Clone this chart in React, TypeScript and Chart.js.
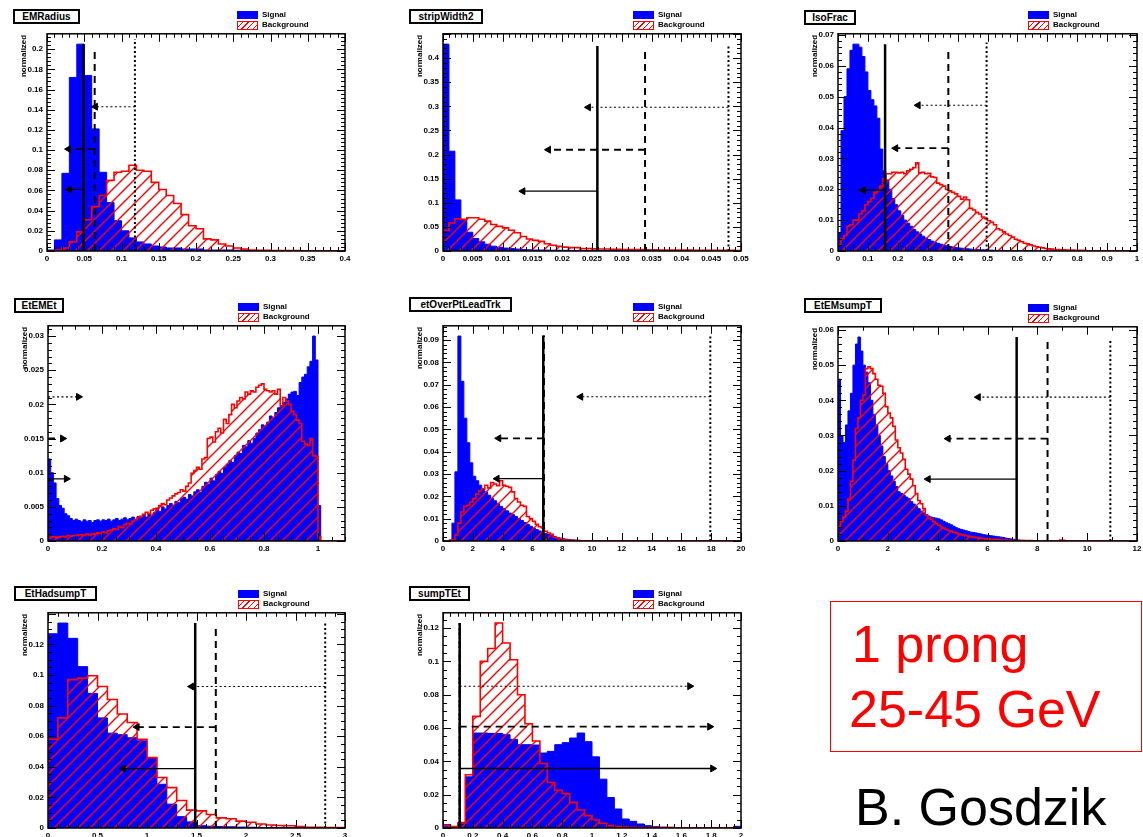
import { useEffect, useRef } from "react";
import { Chart, registerables } from "chart.js";

Chart.register(...registerables);

// [cut value, top of the cut line, arrow height, arrow end]
type Cut = [number, number, number, number];

// ---------- EMRadius (40 bins, 0 - 0.4) ----------
const emRadiusSignal = [
  0.001, 0.011, 0.077, 0.172, 0.205, 0.174, 0.121, 0.078, 0.048, 0.030,
  0.020, 0.013, 0.009, 0.007, 0.005, 0.004, 0.003, 0.003, 0.002, 0.002,
  0.002, 0.001, 0.001, 0.001, 0.001, 0.0008, 0.0006, 0.0005, 0.0004, 0.0003,
  0.0002, 0.0002, 0.0001, 0.0001, 0, 0, 0, 0, 0, 0,
];
const emRadiusBackground = [
  0, 0.001, 0.003, 0.009, 0.019, 0.031, 0.044, 0.055, 0.070, 0.078,
  0.079, 0.085, 0.080, 0.079, 0.068, 0.061, 0.055, 0.047, 0.036, 0.025,
  0.022, 0.012, 0.011, 0.007, 0.005, 0.003, 0.002, 0.001, 0.0008, 0.0006,
  0.0005, 0.0005, 0.0004, 0.0004, 0.0003, 0.0003, 0.0002, 0.0002, 0.0001, 0.0001,
];
const emRadiusXTicks = ["0", "0.05", "0.1", "0.15", "0.2", "0.25", "0.3", "0.35", "0.4"];
const emRadiusYTicks = ["0", "0.02", "0.04", "0.06", "0.08", "0.1", "0.12", "0.14", "0.16", "0.18", "0.2"];
const emRadiusCuts: Cut[] = [
  [0.049, 0.205, 0.061, 0.03],
  [0.064, 0.2, 0.101, 0.029],
  [0.118, 0.21, 0.143, 0.065],
];

// ---------- stripWidth2 (50 bins, 0 - 0.05) ----------
const stripWidthSignal = [
  0.429, 0.207, 0.106, 0.064, 0.039, 0.026, 0.019, 0.014, 0.010, 0.008,
  0.006, 0.005, 0.004, 0.003, 0.0025, 0.002, 0.002, 0.0018, 0.0016, 0.0015,
  0.0014, 0.0013, 0.0012, 0.0011, 0.001, 0.001, 0.0009, 0.0008, 0.0007, 0.0006,
  0.0005, 0.0005, 0.0004, 0.0004, 0.0003, 0.0003, 0.0003, 0.0002, 0.0002, 0.0002,
  0.0002, 0.0001, 0.0001, 0.0001, 0.0001, 0.0001, 0.0001, 0.0001, 0.0001, 0.0001,
];
const stripWidthBackground = [
  0.043, 0.058, 0.067, 0.066, 0.069, 0.069, 0.066, 0.062, 0.055, 0.051,
  0.048, 0.043, 0.038, 0.030, 0.025, 0.022, 0.020, 0.015, 0.012, 0.0097,
  0.008, 0.007, 0.007, 0.005, 0.005, 0.0045, 0.004, 0.004, 0.0035, 0.0035,
  0.003, 0.003, 0.003, 0.0028, 0.0025, 0.0025, 0.002, 0.002, 0.002, 0.002,
  0.0018, 0.0018, 0.0015, 0.0015, 0.0015, 0.0015, 0.0012, 0.0012, 0.0012, 0.001,
];
const stripWidthXTicks = ["0", "0.005", "0.01", "0.015", "0.02", "0.025", "0.03", "0.035", "0.04", "0.045", "0.05"];
const stripWidthYTicks = ["0", "0.05", "0.1", "0.15", "0.2", "0.25", "0.3", "0.35", "0.4"];
const stripWidthCuts: Cut[] = [
  [0.0259, 0.425, 0.124, 0.0134],
  [0.0339, 0.42, 0.21, 0.0177],
  [0.0479, 0.425, 0.298, 0.0244],
];

// ---------- IsoFrac (100 bins, 0 - 1) ----------
const isoFracSignal = [
  0.006, 0.039, 0.050, 0.059, 0.065, 0.067, 0.067, 0.066, 0.063, 0.058,
  0.052, 0.049, 0.047, 0.043, 0.033, 0.026, 0.023, 0.020, 0.017, 0.015,
  0.013, 0.0115, 0.010, 0.009, 0.008, 0.007, 0.0062, 0.0055, 0.0048, 0.0042,
  0.0037, 0.0032, 0.0028, 0.0025, 0.0022, 0.0019, 0.0017, 0.0015, 0.0013, 0.0011,
  0.0010, 0.0009, 0.0008, 0.0007, 0.0006, 0.0005, 0.0005, 0.0004, 0.0004, 0.0003,
  0.0003, 0.0003, 0.0002, 0.0002, 0.0002, 0.0002, 0.0001, 0.0001, 0.0001, 0.0001,
  0.0001, 0.0001, 0.0001, 0.0001, 0.0001, 0, 0, 0, 0, 0,
  0, 0, 0, 0, 0, 0, 0, 0, 0, 0,
  0, 0, 0, 0, 0, 0, 0, 0, 0, 0,
  0, 0, 0, 0, 0, 0, 0, 0, 0, 0,
];
const isoFracBackground = [
  0.002, 0.004, 0.005, 0.008, 0.0085, 0.010, 0.010, 0.012, 0.013, 0.015,
  0.016, 0.017, 0.019, 0.0195, 0.021, 0.0235, 0.025, 0.025, 0.0255, 0.0255,
  0.0253, 0.0255, 0.025, 0.026, 0.0265, 0.027, 0.0286, 0.0253, 0.0255, 0.025,
  0.0252, 0.024, 0.0238, 0.022, 0.0215, 0.021, 0.0199, 0.0195, 0.019, 0.0185,
  0.0177, 0.0168, 0.0175, 0.0166, 0.0138, 0.0133, 0.0125, 0.012, 0.011, 0.0105,
  0.0098, 0.0093, 0.0085, 0.0072, 0.0068, 0.0062, 0.0055, 0.005, 0.0045, 0.0038,
  0.0035, 0.003, 0.0025, 0.0023, 0.002, 0.0016, 0.0014, 0.0012, 0.001, 0.0008,
  0.0007, 0.0006, 0.0005, 0.0005, 0.0004, 0.0004, 0.0003, 0.0003, 0.0003, 0.0002,
  0.0002, 0.0002, 0.0002, 0.0001, 0.0001, 0.0001, 0.0001, 0.0001, 0.0001, 0.0001,
  0.0001, 0.0001, 0.0001, 0.0001, 0.0001, 0.0001, 0.0001, 0.0001, 0.0001, 0.0001,
];
const isoFracXTicks = ["0", "0.1", "0.2", "0.3", "0.4", "0.5", "0.6", "0.7", "0.8", "0.9", "1"];
const isoFracYTicks = ["0", "0.01", "0.02", "0.03", "0.04", "0.05", "0.06", "0.07"];
const isoFracCuts: Cut[] = [
  [0.1575, 0.067, 0.0197, 0.084],
  [0.369, 0.066, 0.0333, 0.193],
  [0.497, 0.0675, 0.0472, 0.268],
];

// ---------- EtEMEt (110 bins, 0 - 1.1) ----------
const etEmEtSignal = [
  0.0120, 0.0100, 0.0085, 0.0062, 0.0052, 0.0048, 0.0040, 0.0037, 0.0033, 0.0030,
  0.0032, 0.0030, 0.0028, 0.0031, 0.0029, 0.0030, 0.0027, 0.0030, 0.0031, 0.0029,
  0.0031, 0.0030, 0.0032, 0.0029, 0.0031, 0.0033, 0.0030, 0.0032, 0.0034, 0.0031,
  0.0033, 0.0035, 0.0032, 0.0036, 0.0034, 0.0038, 0.0035, 0.0040, 0.0037, 0.0042,
  0.0048, 0.0043, 0.0050, 0.0047, 0.0052, 0.0055, 0.0052, 0.0058, 0.0056, 0.0062,
  0.0064, 0.0061, 0.0068, 0.0066, 0.0072, 0.0075, 0.0071, 0.0080, 0.0086, 0.0083,
  0.0092, 0.0088, 0.0097, 0.0102, 0.0099, 0.0108, 0.0112, 0.0118, 0.0115, 0.0125,
  0.0130, 0.0128, 0.0140, 0.0138, 0.0147, 0.0143, 0.0150, 0.0158, 0.0163, 0.0170,
  0.0168, 0.0174, 0.0183, 0.0180, 0.0188, 0.0195, 0.0197, 0.0203, 0.0208, 0.0215,
  0.0218, 0.0219, 0.0213, 0.0232, 0.0240, 0.0244, 0.0255, 0.0263, 0.0300, 0.0265,
  0.0052, 0, 0, 0, 0, 0, 0, 0, 0, 0,
];
const etEmEtBackground = [
  0.0004, 0.0006, 0.0006, 0.0005, 0.0006, 0.0007, 0.0006, 0.0008, 0.0007, 0.0008,
  0.0008, 0.0009, 0.0009, 0.0008, 0.0010, 0.0009, 0.0011, 0.0010, 0.0012, 0.0011,
  0.0013, 0.0012, 0.0015, 0.0016, 0.0018, 0.0017, 0.0021, 0.0020, 0.0024, 0.0026,
  0.0025, 0.0029, 0.0031, 0.0034, 0.0036, 0.0039, 0.0042, 0.0040, 0.0045, 0.0047,
  0.0048, 0.0052, 0.0055, 0.0053, 0.0060, 0.0063, 0.0066, 0.0069, 0.0071, 0.0075,
  0.0073, 0.0080, 0.0085, 0.0099, 0.0103, 0.0108, 0.0105, 0.0120, 0.0122, 0.0150,
  0.0152, 0.0145, 0.0160, 0.0165, 0.0158, 0.0178, 0.0172, 0.0185, 0.0200, 0.0195,
  0.0205, 0.0210, 0.0208, 0.0218, 0.0215, 0.0220, 0.0218, 0.0225, 0.0228, 0.0230,
  0.0222, 0.0220, 0.0218, 0.0220, 0.0215, 0.0222, 0.0198, 0.0210, 0.0205, 0.0200,
  0.0190, 0.0185, 0.0177, 0.0172, 0.0146, 0.0142, 0.0140, 0.0150, 0.0125, 0.0124,
  0.0006, 0, 0, 0, 0, 0, 0, 0, 0, 0,
];
const etEmEtXTicks = ["0", "0.2", "0.4", "0.6", "0.8", "1"];
const etEmEtYTicks = ["0", "0.005", "0.01", "0.015", "0.02", "0.025", "0.03"];
const etEmEtCuts: Cut[] = [
  [0, 0, 0.0091, 0.068],
  [0, 0, 0.015, 0.054],
  [0, 0, 0.0211, 0.113],
];

// ---------- etOverPtLeadTrk (100 bins, 0 - 20) ----------
const etOverPtSignal = [
  0, 0, 0.0005, 0.008, 0.031, 0.0918, 0.0715, 0.055, 0.044, 0.035,
  0.029, 0.027, 0.025, 0.0235, 0.022, 0.0205, 0.019, 0.018, 0.0167, 0.0155,
  0.0145, 0.0135, 0.0125, 0.0118, 0.0110, 0.0100, 0.0092, 0.0083, 0.0075, 0.0066,
  0.0058, 0.0051, 0.0045, 0.0039, 0.0034, 0.0029, 0.0024, 0.0020, 0.0016, 0.0013,
  0.0010, 0.0008, 0.0006, 0.0005, 0.0004, 0.0003, 0.0002, 0.0002, 0.0001, 0.0001,
  0, 0, 0, 0, 0, 0, 0, 0, 0, 0,
  0, 0, 0, 0, 0, 0, 0, 0, 0, 0,
  0, 0, 0, 0, 0, 0, 0, 0, 0, 0,
  0, 0, 0, 0, 0, 0, 0, 0, 0, 0,
  0, 0, 0, 0, 0, 0, 0, 0, 0, 0,
];
const etOverPtBackground = [
  0, 0, 0, 0.0005, 0.0027, 0.008, 0.013, 0.0155, 0.016, 0.0175,
  0.019, 0.021, 0.0225, 0.0234, 0.025, 0.0238, 0.0262, 0.0255, 0.0248, 0.027,
  0.025, 0.0245, 0.024, 0.022, 0.019, 0.0175, 0.016, 0.0155, 0.011, 0.010,
  0.0088, 0.0075, 0.0064, 0.0058, 0.0044, 0.0036, 0.003, 0.0017, 0.0014, 0.001,
  0.0005, 0.0004, 0.0003, 0.0003, 0.0002, 0.0002, 0.0001, 0.0001, 0.0001, 0.0001,
  0, 0, 0, 0, 0, 0, 0, 0, 0, 0,
  0, 0, 0, 0, 0, 0, 0, 0, 0, 0,
  0, 0, 0, 0, 0, 0, 0, 0, 0, 0,
  0, 0, 0, 0, 0, 0, 0, 0, 0, 0,
  0, 0, 0, 0, 0, 0, 0, 0, 0, 0,
];
const etOverPtXTicks = ["0", "2", "4", "6", "8", "10", "12", "14", "16", "18", "20"];
const etOverPtYTicks = ["0", "0.01", "0.02", "0.03", "0.04", "0.05", "0.06", "0.07", "0.08", "0.09"];
const etOverPtCuts: Cut[] = [
  [6.73, 0.092, 0.0279, 3.63],
  [6.78, 0.092, 0.046, 3.74],
  [17.94, 0.092, 0.0646, 9.24],
];

// ---------- EtEMsumpT (120 bins, 0 - 12) ----------
const etEmSumSignal = [
  0.046, 0.030, 0.028, 0.033, 0.037, 0.042, 0.050, 0.056, 0.058, 0.054,
  0.050, 0.048, 0.045, 0.040, 0.036, 0.033, 0.030, 0.027, 0.024, 0.022,
  0.020, 0.0185, 0.017, 0.0155, 0.0140, 0.0135, 0.0130, 0.0125, 0.0120, 0.0112,
  0.0105, 0.0098, 0.0092, 0.0085, 0.0080, 0.0075, 0.0071, 0.0068, 0.0066, 0.0065,
  0.0063, 0.0060, 0.0056, 0.0052, 0.0049, 0.0046, 0.0042, 0.0038, 0.0035, 0.0033,
  0.0031, 0.0029, 0.0027, 0.0025, 0.0024, 0.0023, 0.0021, 0.0020, 0.0018, 0.0017,
  0.0016, 0.0015, 0.0014, 0.0013, 0.0012, 0.0011, 0.0010, 0.0008, 0.0007, 0.0006,
  0.0005, 0.0004, 0.0003, 0.0002, 0.0002, 0.0001, 0.0001, 0, 0, 0,
  0, 0, 0, 0, 0, 0, 0, 0, 0, 0,
  0, 0, 0, 0, 0, 0, 0, 0, 0, 0,
  0, 0, 0, 0, 0, 0, 0, 0, 0, 0,
  0, 0, 0, 0, 0, 0, 0, 0, 0, 0,
];
const etEmSumBackground = [
  0.0042, 0.0055, 0.0068, 0.0085, 0.012, 0.017, 0.023, 0.032, 0.035, 0.040,
  0.0415, 0.049, 0.0495, 0.049, 0.0476, 0.046, 0.0443, 0.044, 0.042, 0.0382,
  0.0364, 0.035, 0.0326, 0.0287, 0.0265, 0.025, 0.0232, 0.0204, 0.019, 0.0176,
  0.0157, 0.0135, 0.0115, 0.0106, 0.0092, 0.0073, 0.0066, 0.0062, 0.0055, 0.005,
  0.0045, 0.004, 0.0037, 0.0033, 0.003, 0.0028, 0.0025, 0.0023, 0.002, 0.0018,
  0.0017, 0.0015, 0.0014, 0.0012, 0.0011, 0.001, 0.0009, 0.0008, 0.0007, 0.0006,
  0.0006, 0.0005, 0.0005, 0.0004, 0.0004, 0.0003, 0.0003, 0.0003, 0.0002, 0.0002,
  0.0002, 0.0001, 0.0001, 0.0001, 0.0001, 0.0001, 0.0001, 0.0001, 0, 0,
  0, 0, 0, 0, 0, 0, 0, 0, 0, 0.0003,
  0.0002, 0, 0, 0, 0, 0, 0, 0, 0, 0,
  0, 0, 0, 0, 0, 0, 0, 0, 0, 0,
  0, 0, 0, 0, 0, 0, 0, 0, 0, 0,
];
const etEmSumXTicks = ["0", "2", "4", "6", "8", "10", "12"];
const etEmSumYTicks = ["0", "0.01", "0.02", "0.03", "0.04", "0.05", "0.06"];
const etEmSumCuts: Cut[] = [
  [7.17, 0.058, 0.0176, 3.62],
  [8.41, 0.0575, 0.0291, 4.42],
  [10.93, 0.0575, 0.0409, 5.63],
];

// ---------- EtHadsumpT (30 bins, 0 - 3) ----------
const etHadSumSignal = [
  0.127, 0.134, 0.124, 0.1055, 0.088, 0.072, 0.062, 0.061, 0.059, 0.057,
  0.046, 0.0286, 0.0156, 0.0074, 0.004, 0.0015, 0.0012, 0.001, 0.0008, 0.0006,
  0.0005, 0.0003, 0.0003, 0.0002, 0.0002, 0.0001, 0.0001, 0.0001, 0, 0,
];
const etHadSumBackground = [
  0.058, 0.072, 0.097, 0.098, 0.0995, 0.0925, 0.084, 0.0745, 0.069, 0.058,
  0.046, 0.033, 0.0264, 0.018, 0.0117, 0.0112, 0.0088, 0.0066, 0.006, 0.0045,
  0.0038, 0.0026, 0.002, 0.0016, 0.0015, 0.0009, 0.0005, 0.0004, 0.0003, 0.0003,
];
const etHadSumXTicks = ["0", "0.5", "1", "1.5", "2", "2.5", "3"];
const etHadSumYTicks = ["0", "0.02", "0.04", "0.06", "0.08", "0.1", "0.12"];
const etHadSumCuts: Cut[] = [
  [1.487, 0.134, 0.0388, 0.76],
  [1.695, 0.133, 0.066, 0.9],
  [2.8, 0.134, 0.0925, 1.45],
];

// ---------- sumpTEt (40 bins, 0 - 2) ----------
const sumPtEtSignal = [
  0.002, 0.0008, 0.0034, 0.0307, 0.057, 0.057, 0.0568, 0.0568, 0.056, 0.0532,
  0.050, 0.050, 0.0498, 0.045, 0.046, 0.050, 0.0512, 0.054, 0.057, 0.0518,
  0.0427, 0.0293, 0.0183, 0.0114, 0.0054, 0.004, 0.0024, 0.0014, 0.0008, 0.0005,
  0.0004, 0.0003, 0.0002, 0.0002, 0.0001, 0.0001, 0.0001, 0, 0, 0.001,
];
const sumPtEtBackground = [
  0.0014, 0.0008, 0.003, 0.032, 0.067, 0.1, 0.1077, 0.123, 0.111, 0.101,
  0.080, 0.0626, 0.0522, 0.0387, 0.0273, 0.0227, 0.0207, 0.0154, 0.0108, 0.0074,
  0.0048, 0.0028, 0.0014, 0.0008, 0.0005, 0.0004, 0.0003, 0.0003, 0.0002, 0.0002,
  0.0002, 0.0001, 0.0001, 0.0001, 0.0001, 0.0001, 0.0001, 0.0001, 0.0001, 0.0001,
];
const sumPtEtXTicks = ["0", "0.2", "0.4", "0.6", "0.8", "1", "1.2", "1.4", "1.6", "1.8", "2"];
const sumPtEtYTicks = ["0", "0.02", "0.04", "0.06", "0.08", "0.1", "0.12"];
const sumPtEtCuts: Cut[] = [
  [0.112, 0.123, 0.0357, 1.81],
  [0.112, 0.123, 0.0608, 1.79],
  [0.112, 0.123, 0.0851, 1.656],
];

const FONT = '"Liberation Sans", Arial, Helvetica, sans-serif';

interface PanelSpec {
  title: string;
  signal: number[];
  background: number[];
  range: [number, number];
  xTicks: string[];
  yTicks: string[];
  cuts: Cut[];
  xSub: number;
  ySub: number;
}

const PANELS: PanelSpec[] = [
  { title: "EMRadius", signal: emRadiusSignal, background: emRadiusBackground, range: [0, 0.4], xTicks: emRadiusXTicks, yTicks: emRadiusYTicks, cuts: emRadiusCuts, xSub: 5, ySub: 5 },
  { title: "stripWidth2", signal: stripWidthSignal, background: stripWidthBackground, range: [0, 0.05], xTicks: stripWidthXTicks, yTicks: stripWidthYTicks, cuts: stripWidthCuts, xSub: 5, ySub: 5 },
  { title: "IsoFrac", signal: isoFracSignal, background: isoFracBackground, range: [0, 1], xTicks: isoFracXTicks, yTicks: isoFracYTicks, cuts: isoFracCuts, xSub: 4, ySub: 5 },
  { title: "EtEMEt", signal: etEmEtSignal, background: etEmEtBackground, range: [0, 1.1], xTicks: etEmEtXTicks, yTicks: etEmEtYTicks, cuts: etEmEtCuts, xSub: 4, ySub: 5 },
  { title: "etOverPtLeadTrk", signal: etOverPtSignal, background: etOverPtBackground, range: [0, 20], xTicks: etOverPtXTicks, yTicks: etOverPtYTicks, cuts: etOverPtCuts, xSub: 2, ySub: 5 },
  { title: "EtEMsumpT", signal: etEmSumSignal, background: etEmSumBackground, range: [0, 12], xTicks: etEmSumXTicks, yTicks: etEmSumYTicks, cuts: etEmSumCuts, xSub: 2, ySub: 5 },
  { title: "EtHadsumpT", signal: etHadSumSignal, background: etHadSumBackground, range: [0, 3], xTicks: etHadSumXTicks, yTicks: etHadSumYTicks, cuts: etHadSumCuts, xSub: 5, ySub: 4 },
  { title: "sumpTEt", signal: sumPtEtSignal, background: sumPtEtBackground, range: [0, 2], xTicks: sumPtEtXTicks, yTicks: sumPtEtYTicks, cuts: sumPtEtCuts, xSub: 4, ySub: 4 },
];

// Frame rectangle of every panel on the page, plus the width of its title box
const FRAMES = [
  { left: 47, top: 33, right: 345, bottom: 251, titleW: 67, titleDy: 24 },
  { left: 443, top: 33, right: 741, bottom: 251, titleW: 74, titleDy: 24 },
  { left: 838, top: 33, right: 1137, bottom: 251, titleW: 52, titleDy: 23 },
  { left: 48, top: 325, right: 345, bottom: 541, titleW: 50, titleDy: 27 },
  { left: 443, top: 325, right: 741, bottom: 541, titleW: 103, titleDy: 28 },
  { left: 838, top: 326, right: 1137, bottom: 541, titleW: 78, titleDy: 28 },
  { left: 48, top: 612, right: 345, bottom: 828, titleW: 83, titleDy: 26 },
  { left: 443, top: 612, right: 741, bottom: 828, titleW: 61, titleDy: 26 },
];

const AXIS_W = 46;
const AXIS_H = 20;
const PAD_T = 8;
const PAD_R = 12;

// Step outline of a histogram: value of bin i is held across [edge i, edge i+1]
function histogramPoints(values: number[], lo: number, hi: number) {
  const w = (hi - lo) / values.length;
  const pts = [{ x: lo, y: 0 }];
  values.forEach((v, i) => pts.push({ x: lo + i * w, y: v }));
  pts.push({ x: hi, y: values[values.length - 1] });
  pts.push({ x: hi, y: 0 });
  return pts;
}

// Red "/" hatching on a transparent tile
function makeHatch(target: CanvasRenderingContext2D) {
  const size = 12;
  const c = document.createElement("canvas");
  c.width = size;
  c.height = size;
  const g = c.getContext("2d")!;
  g.strokeStyle = "#ff0000";
  g.lineWidth = 1.4;
  g.lineCap = "square";
  g.beginPath();
  g.moveTo(0, size);
  g.lineTo(size, 0);
  g.moveTo(-size / 2, size / 2);
  g.lineTo(size / 2, -size / 2);
  g.moveTo(size / 2, size * 1.5);
  g.lineTo(size * 1.5, size / 2);
  g.stroke();
  return target.createPattern(c, "repeat");
}

// solid, dashed, dotted
const CUT_STYLES = [
  { dash: [] as number[], vWidth: 2.5, aWidth: 1.3 },
  { dash: [7, 5], vWidth: 2, aWidth: 1.8 },
  { dash: [2, 2.5], vWidth: 2, aWidth: 1.1 },
];

function cutDatasets(cuts: Cut[]) {
  return cuts.flatMap(([x, top, ay, end], i) => {
    const s = CUT_STYLES[i];
    const rot = end < x ? -90 : 90;
    return [
      {
        type: "line",
        data: [{ x, y: 0 }, { x, y: top }],
        borderColor: "#000",
        borderWidth: s.vWidth,
        borderDash: s.dash,
        pointRadius: 0,
        fill: false,
        order: 0,
      },
      {
        type: "line",
        data: [{ x, y: ay }, { x: end, y: ay }],
        borderColor: "#000",
        borderWidth: s.aWidth,
        borderDash: s.dash,
        pointRadius: [0, 4],
        pointStyle: "triangle",
        pointRotation: [0, rot],
        pointBackgroundColor: "#000",
        pointBorderColor: "#000",
        pointBorderWidth: 1,
        fill: false,
        order: 0,
      },
    ];
  });
}

// Frame, inner tick marks on all four sides and the rotated y title
function framePlugin(p: PanelSpec, ymax: number) {
  return {
    id: "rootFrame",
    afterDraw(chart: any) {
      const { ctx, chartArea: a, scales } = chart;
      const xs = scales.x;
      const ys = scales.y;
      ctx.save();
      ctx.strokeStyle = "#000";
      ctx.lineWidth = 1;
      const drawAxis = (labels: string[], sub: number, min: number, max: number, horizontal: boolean) => {
        const majors = labels.map(Number);
        const step = majors[1] - majors[0];
        const minor = step / sub;
        const k0 = Math.floor((majors[0] - min) / minor + 1e-9);
        const start = majors[0] - k0 * minor;
        ctx.beginPath();
        for (let i = 0; ; i++) {
          const v = start + i * minor;
          if (v > max + minor * 1e-6) break;
          const r = (v - majors[0]) / step;
          const isMajor = Math.abs(r - Math.round(r)) < 1e-6;
          const len = isMajor ? 8 : 4;
          if (horizontal) {
            const px = Math.round(xs.getPixelForValue(v)) + 0.5;
            ctx.moveTo(px, a.bottom);
            ctx.lineTo(px, a.bottom - len);
            ctx.moveTo(px, a.top);
            ctx.lineTo(px, a.top + len);
          } else {
            const py = Math.round(ys.getPixelForValue(v)) + 0.5;
            ctx.moveTo(a.left, py);
            ctx.lineTo(a.left + len, py);
            ctx.moveTo(a.right, py);
            ctx.lineTo(a.right - len, py);
          }
        }
        ctx.stroke();
      };
      drawAxis(p.xTicks, p.xSub, p.range[0], p.range[1], true);
      drawAxis(p.yTicks, p.ySub, 0, ymax, false);
      ctx.lineWidth = 1.5;
      ctx.strokeRect(a.left, a.top, a.right - a.left, a.bottom - a.top);

      ctx.translate(a.left - 23, a.top + 1);
      ctx.rotate(-Math.PI / 2);
      ctx.fillStyle = "#000";
      ctx.font = `bold 8px ${FONT}`;
      ctx.textAlign = "right";
      ctx.textBaseline = "middle";
      ctx.fillText("normalized", 0, 0);
      ctx.restore();
    },
  };
}

function HistPanel({ p, f }: { p: PanelSpec; f: (typeof FRAMES)[number] }) {
  const ref = useRef<HTMLCanvasElement>(null);
  const width = f.right - f.left + AXIS_W + PAD_R;
  const height = f.bottom - f.top + PAD_T + AXIS_H;

  useEffect(() => {
    const canvas = ref.current!;
    const ctx = canvas.getContext("2d")!;
    const [lo, hi] = p.range;
    const ymax = 1.05 * Math.max(...p.signal, ...p.background);
    const xVals = p.xTicks.map(Number);
    const yVals = p.yTicks.map(Number);
    const tickFont = { family: FONT, size: 8, weight: "bold" as const };

    const chart = new Chart(ctx, {
      type: "line",
      data: {
        datasets: [
          ...(cutDatasets(p.cuts) as any[]),
          {
            label: "Background",
            data: histogramPoints(p.background, lo, hi),
            stepped: true,
            fill: "origin",
            backgroundColor: makeHatch(ctx) as any,
            borderColor: "#ff0000",
            borderWidth: 1.6,
            pointRadius: 0,
            order: 1,
          },
          {
            label: "Signal",
            data: histogramPoints(p.signal, lo, hi),
            stepped: true,
            fill: "origin",
            backgroundColor: "#0000ff",
            borderColor: "#0000ff",
            borderWidth: 1,
            pointRadius: 0,
            order: 2,
          },
        ],
      },
      options: {
        animation: false,
        responsive: false,
        maintainAspectRatio: false,
        events: [],
        layout: { padding: { top: PAD_T, right: PAD_R, left: 0, bottom: 0 } },
        plugins: { legend: { display: false }, tooltip: { enabled: false } },
        scales: {
          x: {
            type: "linear",
            min: lo,
            max: hi,
            afterBuildTicks: (s: any) => {
              s.ticks = xVals.map((v) => ({ value: v }));
            },
            afterFit: (s: any) => {
              s.height = AXIS_H;
            },
            grid: { display: false, drawTicks: false },
            border: { display: false },
            ticks: {
              autoSkip: false,
              maxRotation: 0,
              minRotation: 0,
              padding: 3,
              color: "#000",
              font: tickFont,
              callback: (_v: any, i: number) => p.xTicks[i],
            },
          },
          y: {
            type: "linear",
            min: 0,
            max: ymax,
            afterBuildTicks: (s: any) => {
              s.ticks = yVals.map((v) => ({ value: v }));
            },
            afterFit: (s: any) => {
              s.width = AXIS_W;
            },
            grid: { display: false, drawTicks: false },
            border: { display: false },
            ticks: {
              autoSkip: false,
              padding: 4,
              color: "#000",
              font: tickFont,
              callback: (_v: any, i: number) => p.yTicks[i],
            },
          },
        },
      } as any,
      plugins: [framePlugin(p, ymax)],
    });
    return () => chart.destroy();
  }, [p]);

  const legendText = { position: "absolute" as const, font: `bold 8px ${FONT}`, lineHeight: "10px", color: "#000", whiteSpace: "nowrap" as const };

  return (
    <>
      <canvas
        ref={ref}
        width={width}
        height={height}
        style={{ position: "absolute", left: f.left - AXIS_W, top: f.top - PAD_T, width, height }}
      />
      <div
        style={{
          position: "absolute",
          left: f.left - 34,
          top: f.top - f.titleDy,
          width: f.titleW,
          height: 15,
          border: "2px solid #000",
          boxSizing: "border-box",
          background: "#fff",
          font: `bold 10px ${FONT}`,
          lineHeight: "11px",
          textAlign: "center",
          whiteSpace: "nowrap",
          color: "#000",
        }}
      >
        {p.title}
      </div>
      <div style={{ position: "absolute", left: f.left + 190, top: f.top - 22, width: 21, height: 8, background: "#0000ff" }} />
      <div style={{ ...legendText, left: f.left + 215, top: f.top - 23 }}>Signal</div>
      <div
        style={{
          position: "absolute",
          left: f.left + 190,
          top: f.top - 12,
          width: 21,
          height: 9,
          border: "1.5px solid #ff0000",
          boxSizing: "border-box",
          background: "repeating-linear-gradient(135deg, #fff 0 3px, #ff0000 3px 4px)",
        }}
      />
      <div style={{ ...legendText, left: f.left + 215, top: f.top - 13 }}>Background</div>
    </>
  );
}

export default function App() {
  return (
    <div
      style={{
        position: "fixed",
        left: 0,
        top: 0,
        width: 1143,
        height: 837,
        overflow: "hidden",
        background: "#fff",
        fontFamily: FONT,
      }}
    >
      {PANELS.map((p, i) => (
        <HistPanel key={p.title} p={p} f={FRAMES[i]} />
      ))}
      <div
        style={{
          position: "absolute",
          left: 830,
          top: 601,
          width: 312,
          height: 151,
          border: "1px solid #ff0000",
          boxSizing: "border-box",
        }}
      />
      <div style={{ position: "absolute", left: 852, top: 618, font: `52px ${FONT}`, lineHeight: "52px", color: "#ff0000", whiteSpace: "nowrap" }}>
        1 prong
      </div>
      <div style={{ position: "absolute", left: 849, top: 683, font: `52px ${FONT}`, lineHeight: "52px", color: "#ff0000", whiteSpace: "nowrap" }}>
        25-45 GeV
      </div>
      <div style={{ position: "absolute", left: 855, top: 781, font: `52px ${FONT}`, lineHeight: "52px", color: "#000", whiteSpace: "nowrap" }}>
        B. Gosdzik
      </div>
    </div>
  );
}
